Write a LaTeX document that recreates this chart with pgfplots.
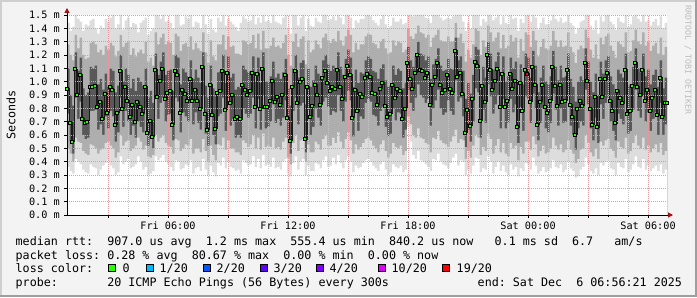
\documentclass[border=0pt]{standalone}
\usepackage{fontspec}
\setmainfont{DejaVu Sans Mono}
\setmonofont{DejaVu Sans Mono}
\usepackage{pgfplots}
\pgfplotsset{compat=1.18}
\usepackage{pgfplotstable}
\usetikzlibrary{arrows.meta}
\definecolor{bg}{HTML}{F3F3F3}
\definecolor{shadea}{HTML}{CFCFCF}
\definecolor{shadeb}{HTML}{9E9E9E}
\definecolor{mgrid}{HTML}{E49A9A}
\definecolor{mingrid}{HTML}{C4C4C4}
\definecolor{smokeA}{HTML}{DDDDDD}
\definecolor{smokeB}{HTML}{AEAEAE}
\definecolor{smokeC}{HTML}{585858}
\definecolor{medgreen}{HTML}{26FF00}
\definecolor{arrowred}{HTML}{A01010}
\definecolor{lossA}{HTML}{26FF00}
\definecolor{lossB}{HTML}{00B8FF}
\definecolor{lossC}{HTML}{0059FF}
\definecolor{lossD}{HTML}{5E00FF}
\definecolor{lossE}{HTML}{7E00FF}
\definecolor{lossF}{HTML}{DD00FF}
\definecolor{lossG}{HTML}{FF0000}
\definecolor{wm}{HTML}{BDBDBD}
\newcommand\lf{\fontsize{11.7bp}{14bp}\selectfont}
\newcommand\tf{\fontsize{10.2bp}{12bp}\selectfont}

\pgfplotstableread{
t lo l1 l2 med h2 h1 hi
0.95 0.36 0.50 0.76 0.95 1.10 1.28 1.44
1.075 0.33 0.46 0.55 0.69 0.90 1.20 1.38
1.20 0.31 0.40 0.46 0.55 0.82 1.16 1.41
1.325 0.42 0.58 0.88 1.10 1.22 1.35 1.50
1.45 0.40 0.55 0.72 0.90 1.08 1.25 1.47
1.575 0.38 0.54 0.85 1.05 1.18 1.33 1.45
1.70 0.34 0.48 0.60 0.72 0.95 1.20 1.38
1.825 0.32 0.46 0.57 0.69 0.90 1.17 1.43
1.95 0.31 0.45 0.58 0.70 0.92 1.18 1.42
2.075 0.38 0.53 0.78 0.96 1.11 1.29 1.46
2.20 0.36 0.52 0.78 0.96 1.10 1.30 1.47
2.325 0.35 0.50 0.79 0.97 1.12 1.28 1.40
2.45 0.30 0.46 0.64 0.81 0.98 1.22 1.36
2.575 0.34 0.49 0.68 0.85 1.02 1.24 1.42
2.70 0.37 0.50 0.60 0.72 0.94 1.20 1.40
2.825 0.39 0.54 0.74 0.91 1.06 1.27 1.47
2.95 0.41 0.55 0.65 0.77 0.96 1.24 1.45
3.075 0.37 0.52 0.78 0.96 1.10 1.29 1.48
3.20 0.35 0.50 0.74 0.94 1.08 1.27 1.50
3.325 0.30 0.43 0.55 0.68 0.92 1.19 1.40
3.45 0.32 0.47 0.62 0.77 0.97 1.23 1.43
3.575 0.44 0.60 0.88 1.08 1.20 1.35 1.50
3.70 0.38 0.52 0.66 0.80 1.00 1.26 1.39
3.825 0.40 0.55 0.78 0.96 1.10 1.29 1.46
3.95 0.42 0.56 0.70 0.86 1.05 1.30 1.48
4.075 0.35 0.48 0.60 0.74 0.95 1.20 1.41
4.20 0.36 0.50 0.67 0.83 1.02 1.25 1.44
4.325 0.38 0.52 0.58 0.70 0.93 1.19 1.43
4.45 0.44 0.58 0.70 0.85 1.03 1.22 1.37
4.575 0.40 0.55 0.66 0.81 1.00 1.24 1.44
4.70 0.34 0.49 0.62 0.76 0.97 1.21 1.46
4.825 0.36 0.52 0.79 0.96 1.10 1.30 1.48
4.95 0.30 0.44 0.52 0.62 0.88 1.15 1.35
5.075 0.31 0.43 0.58 0.71 0.93 1.18 1.38
5.20 0.33 0.45 0.50 0.59 0.84 1.12 1.40
5.325 0.44 0.60 0.89 1.09 1.21 1.37 1.50
5.45 0.41 0.55 0.72 0.89 1.05 1.28 1.50
5.575 0.43 0.58 0.84 1.01 1.15 1.33 1.47
5.70 0.45 0.60 0.88 1.10 1.22 1.36 1.50
5.825 0.40 0.54 0.70 0.87 1.05 1.28 1.45
5.95 0.38 0.52 0.75 0.92 1.08 1.30 1.46
6.075 0.36 0.51 0.76 0.93 1.09 1.29 1.44
6.20 0.33 0.46 0.56 0.68 0.93 1.20 1.40
6.325 0.41 0.57 0.88 1.08 1.20 1.36 1.50
6.45 0.40 0.56 0.85 1.05 1.18 1.34 1.50
6.575 0.34 0.48 0.62 0.77 0.98 1.23 1.42
6.70 0.35 0.50 0.77 0.94 1.10 1.28 1.43
6.825 0.38 0.53 0.74 0.91 1.07 1.29 1.49
6.95 0.37 0.52 0.70 0.86 1.04 1.26 1.47
7.075 0.41 0.57 0.84 1.02 1.16 1.34 1.50
7.20 0.31 0.46 0.68 0.86 1.02 1.24 1.41
7.325 0.35 0.50 0.77 0.94 1.09 1.29 1.45
7.45 0.36 0.50 0.69 0.86 1.03 1.25 1.44
7.575 0.33 0.47 0.64 0.80 0.99 1.23 1.40
7.70 0.42 0.57 0.90 1.11 1.22 1.37 1.50
7.825 0.34 0.48 0.61 0.76 0.97 1.22 1.43
7.95 0.30 0.40 0.52 0.64 0.88 1.14 1.36
8.075 0.37 0.52 0.80 0.98 1.12 1.31 1.47
8.20 0.32 0.45 0.60 0.75 0.95 1.19 1.39
8.325 0.29 0.41 0.53 0.65 0.89 1.16 1.37
8.45 0.39 0.53 0.74 0.92 1.07 1.28 1.48
8.575 0.37 0.52 0.76 0.93 1.08 1.28 1.45
8.70 0.43 0.58 0.88 1.08 1.20 1.35 1.50
8.825 0.35 0.49 0.63 0.79 0.99 1.24 1.42
8.95 0.40 0.56 0.87 1.07 1.19 1.34 1.47
9.075 0.36 0.50 0.67 0.84 1.03 1.26 1.45
9.20 0.35 0.50 0.72 0.90 1.06 1.27 1.43
9.325 0.33 0.47 0.58 0.72 0.94 1.21 1.41
9.45 0.34 0.47 0.60 0.74 0.96 1.21 1.38
9.575 0.31 0.45 0.58 0.72 0.95 1.20 1.44
9.70 0.41 0.56 0.80 0.98 1.12 1.31 1.49
9.825 0.39 0.54 0.76 0.94 1.09 1.30 1.47
9.95 0.37 0.51 0.73 0.90 1.07 1.28 1.45
10.075 0.38 0.53 0.76 0.93 1.08 1.29 1.46
10.20 0.44 0.60 0.88 1.07 1.19 1.35 1.50
10.325 0.36 0.50 0.65 0.81 1.00 1.25 1.43
10.45 0.42 0.58 0.87 1.06 1.18 1.36 1.48
10.575 0.35 0.49 0.64 0.80 0.99 1.24 1.44
10.70 0.45 0.61 0.90 1.10 1.22 1.38 1.50
10.825 0.37 0.51 0.65 0.81 1.00 1.25 1.45
10.95 0.38 0.52 0.66 0.81 1.00 1.25 1.46
11.075 0.36 0.51 0.70 0.86 1.04 1.27 1.44
11.20 0.43 0.58 0.83 1.01 1.15 1.33 1.50
11.325 0.35 0.50 0.69 0.85 1.03 1.26 1.45
11.45 0.36 0.51 0.72 0.89 1.06 1.27 1.44
11.575 0.34 0.49 0.67 0.83 1.02 1.25 1.43
11.70 0.40 0.55 0.73 0.90 1.07 1.29 1.48
11.825 0.42 0.58 0.86 1.05 1.17 1.35 1.50
11.95 0.31 0.43 0.58 0.73 0.95 1.20 1.40
12.075 0.29 0.38 0.46 0.56 0.82 1.12 1.36
12.20 0.39 0.54 0.78 0.96 1.10 1.30 1.50
12.325 0.44 0.60 0.88 1.08 1.20 1.36 1.50
12.45 0.34 0.48 0.68 0.84 1.03 1.26 1.42
12.575 0.40 0.56 0.82 1.00 1.14 1.32 1.48
12.70 0.42 0.57 0.84 1.02 1.16 1.34 1.50
12.825 0.30 0.40 0.47 0.57 0.83 1.13 1.38
12.95 0.37 0.53 0.78 0.96 1.10 1.31 1.47
13.075 0.33 0.47 0.60 0.74 0.96 1.22 1.42
13.20 0.33 0.47 0.66 0.82 1.01 1.24 1.41
13.325 0.39 0.55 0.80 0.98 1.12 1.31 1.48
13.45 0.38 0.53 0.73 0.90 1.06 1.28 1.45
13.575 0.35 0.49 0.67 0.83 1.02 1.25 1.44
13.70 0.41 0.57 0.85 1.03 1.16 1.33 1.50
13.825 0.44 0.60 0.88 1.08 1.20 1.36 1.50
13.95 0.36 0.52 0.81 0.99 1.13 1.31 1.46
14.075 0.37 0.52 0.75 0.93 1.08 1.29 1.47
14.20 0.43 0.58 0.78 0.96 1.12 1.32 1.49
14.325 0.38 0.54 0.77 0.95 1.10 1.30 1.46
14.45 0.45 0.62 0.90 1.09 1.22 1.38 1.50
14.575 0.39 0.55 0.78 0.96 1.11 1.31 1.48
14.70 0.35 0.50 0.70 0.87 1.05 1.27 1.43
14.825 0.41 0.57 0.85 1.04 1.17 1.34 1.50
14.95 0.44 0.62 0.93 1.12 1.24 1.39 1.50
15.075 0.40 0.56 0.86 1.05 1.18 1.35 1.48
15.20 0.32 0.46 0.59 0.73 0.96 1.22 1.40
15.325 0.37 0.53 0.77 0.94 1.09 1.29 1.46
15.45 0.35 0.49 0.63 0.78 0.99 1.24 1.44
15.575 0.36 0.51 0.74 0.91 1.07 1.28 1.47
15.70 0.39 0.54 0.72 0.89 1.06 1.28 1.47
15.825 0.41 0.57 0.84 1.03 1.16 1.34 1.50
15.95 0.42 0.58 0.87 1.06 1.19 1.36 1.50
16.075 0.40 0.56 0.85 1.04 1.17 1.35 1.49
16.20 0.37 0.52 0.75 0.92 1.08 1.29 1.46
16.325 0.35 0.50 0.74 0.91 1.07 1.28 1.44
16.45 0.33 0.47 0.67 0.83 1.02 1.25 1.42
16.575 0.38 0.53 0.78 0.95 1.10 1.30 1.47
16.70 0.40 0.56 0.81 0.99 1.13 1.32 1.50
16.825 0.34 0.48 0.66 0.82 1.01 1.25 1.43
16.95 0.30 0.43 0.59 0.74 0.96 1.21 1.40
17.075 0.32 0.46 0.61 0.76 0.97 1.22 1.42
17.20 0.38 0.54 0.80 0.98 1.12 1.31 1.48
17.325 0.36 0.51 0.71 0.88 1.05 1.27 1.45
17.45 0.35 0.50 0.77 0.95 1.10 1.30 1.45
17.575 0.37 0.52 0.76 0.93 1.08 1.29 1.47
17.70 0.32 0.45 0.58 0.72 0.95 1.22 1.43
17.825 0.34 0.48 0.64 0.80 0.99 1.24 1.44
17.95 0.66 0.74 0.94 1.14 1.26 1.40 1.50
18.075 0.55 0.68 0.84 1.02 1.16 1.34 1.50
18.20 0.45 0.60 0.78 0.95 1.11 1.32 1.49
18.325 0.42 0.58 0.88 1.07 1.19 1.36 1.50
18.45 0.48 0.65 0.98 1.20 1.30 1.42 1.50
18.575 0.41 0.58 0.90 1.09 1.21 1.37 1.50
18.70 0.40 0.57 0.88 1.08 1.20 1.36 1.50
18.825 0.38 0.54 0.84 1.03 1.16 1.33 1.48
18.95 0.36 0.53 0.87 1.07 1.19 1.35 1.47
19.075 0.33 0.47 0.67 0.83 1.02 1.26 1.44
19.20 0.42 0.58 0.80 0.98 1.13 1.33 1.50
19.325 0.41 0.57 0.86 1.04 1.17 1.35 1.50
19.45 0.46 0.63 0.94 1.14 1.25 1.39 1.50
19.575 0.40 0.56 0.80 0.98 1.12 1.31 1.48
19.70 0.38 0.54 0.75 0.92 1.08 1.30 1.46
19.825 0.37 0.53 0.77 0.94 1.09 1.30 1.47
19.95 0.35 0.51 0.86 1.05 1.17 1.34 1.48
20.075 0.39 0.55 0.78 0.95 1.10 1.30 1.47
20.20 0.43 0.59 0.75 0.92 1.09 1.30 1.49
20.325 0.46 0.64 1.01 1.23 1.33 1.44 1.50
20.45 0.37 0.54 0.85 1.04 1.16 1.33 1.50
20.575 0.41 0.57 0.88 1.07 1.19 1.36 1.50
20.70 0.40 0.56 0.74 0.91 1.08 1.29 1.45
20.825 0.30 0.42 0.51 0.62 0.87 1.15 1.38
20.95 0.34 0.48 0.64 0.79 0.99 1.24 1.44
21.075 0.31 0.43 0.55 0.67 0.91 1.18 1.40
21.20 0.37 0.52 0.70 0.87 1.05 1.28 1.50
21.325 0.43 0.60 0.95 1.15 1.26 1.40 1.50
21.45 0.42 0.58 0.92 1.12 1.24 1.38 1.50
21.575 0.32 0.45 0.58 0.71 0.94 1.20 1.42
21.70 0.35 0.51 0.79 0.97 1.11 1.31 1.47
21.825 0.34 0.48 0.69 0.85 1.03 1.26 1.45
21.95 0.44 0.61 0.98 1.20 1.30 1.42 1.50
22.075 0.40 0.57 0.89 1.09 1.21 1.37 1.50
22.20 0.31 0.46 0.76 0.94 1.09 1.30 1.46
22.325 0.36 0.52 0.83 1.01 1.15 1.33 1.48
22.45 0.40 0.57 0.90 1.10 1.22 1.37 1.50
22.575 0.33 0.47 0.65 0.81 1.00 1.25 1.43
22.70 0.37 0.54 0.87 1.06 1.19 1.35 1.49
22.825 0.32 0.46 0.65 0.81 1.00 1.25 1.44
22.95 0.30 0.44 0.69 0.86 1.04 1.27 1.43
23.075 0.38 0.54 0.87 1.06 1.18 1.35 1.50
23.20 0.34 0.50 0.77 0.95 1.10 1.30 1.47
23.325 0.36 0.52 0.83 1.01 1.15 1.33 1.48
23.45 0.29 0.41 0.54 0.66 0.90 1.18 1.38
23.575 0.35 0.51 0.81 0.99 1.13 1.32 1.47
23.70 0.33 0.46 0.63 0.78 0.98 1.23 1.44
23.825 0.39 0.55 0.89 1.09 1.21 1.37 1.50
23.95 0.38 0.55 0.87 1.06 1.18 1.35 1.50
24.075 0.34 0.49 0.69 0.85 1.03 1.26 1.45
24.20 0.43 0.59 0.91 1.11 1.23 1.38 1.50
24.325 0.37 0.53 0.80 0.98 1.12 1.31 1.48
24.45 0.31 0.44 0.56 0.68 0.92 1.19 1.39
24.575 0.33 0.48 0.69 0.85 1.03 1.26 1.44
24.70 0.36 0.52 0.80 0.98 1.12 1.32 1.48
24.825 0.32 0.46 0.65 0.81 1.00 1.25 1.43
24.95 0.33 0.47 0.62 0.77 0.98 1.24 1.43
25.075 0.35 0.50 0.69 0.86 1.04 1.27 1.46
25.20 0.41 0.58 0.91 1.11 1.23 1.38 1.50
25.325 0.36 0.52 0.79 0.97 1.11 1.31 1.47
25.45 0.35 0.49 0.67 0.82 1.01 1.26 1.45
25.575 0.38 0.53 0.80 0.98 1.12 1.31 1.48
25.70 0.32 0.47 0.69 0.85 1.03 1.26 1.44
25.825 0.34 0.49 0.70 0.86 1.04 1.27 1.45
25.95 0.40 0.56 0.89 1.09 1.21 1.37 1.50
26.075 0.35 0.49 0.67 0.83 1.02 1.26 1.44
26.20 0.33 0.46 0.60 0.74 0.96 1.22 1.42
26.325 0.28 0.39 0.49 0.60 0.85 1.14 1.36
26.45 0.29 0.42 0.65 0.80 1.00 1.24 1.40
26.575 0.34 0.49 0.70 0.86 1.04 1.27 1.45
26.70 0.36 0.50 0.67 0.82 1.01 1.25 1.46
26.825 0.43 0.60 0.94 1.14 1.25 1.39 1.50
26.95 0.38 0.54 0.83 1.01 1.15 1.33 1.50
27.075 0.33 0.47 0.65 0.80 1.00 1.24 1.42
27.20 0.31 0.44 0.56 0.68 0.92 1.18 1.39
27.325 0.35 0.50 0.73 0.89 1.06 1.28 1.46
27.45 0.30 0.42 0.54 0.66 0.90 1.17 1.36
27.575 0.39 0.55 0.83 1.02 1.15 1.33 1.49
27.70 0.37 0.52 0.72 0.89 1.06 1.28 1.45
27.825 0.40 0.56 0.84 1.02 1.16 1.34 1.50
27.95 0.41 0.57 0.88 1.07 1.19 1.36 1.50
28.075 0.35 0.50 0.70 0.86 1.04 1.27 1.45
28.20 0.34 0.48 0.63 0.78 0.98 1.23 1.43
28.325 0.30 0.43 0.56 0.69 0.92 1.18 1.39
28.45 0.39 0.55 0.76 0.93 1.09 1.30 1.48
28.575 0.36 0.51 0.72 0.88 1.06 1.28 1.45
28.70 0.35 0.50 0.68 0.84 1.03 1.26 1.44
28.825 0.42 0.58 0.89 1.09 1.21 1.37 1.50
28.95 0.32 0.46 0.61 0.76 0.97 1.22 1.41
29.075 0.34 0.48 0.63 0.78 0.98 1.23 1.43
29.20 0.38 0.54 0.79 0.97 1.11 1.31 1.49
29.325 0.44 0.60 0.94 1.14 1.25 1.39 1.50
29.45 0.36 0.52 0.78 0.96 1.10 1.30 1.47
29.575 0.35 0.50 0.73 0.90 1.07 1.28 1.45
29.70 0.42 0.58 0.89 1.09 1.21 1.37 1.50
29.825 0.34 0.49 0.70 0.86 1.04 1.27 1.45
29.95 0.37 0.52 0.77 0.94 1.09 1.30 1.46
30.075 0.33 0.47 0.63 0.78 0.98 1.23 1.42
30.20 0.35 0.50 0.72 0.88 1.05 1.27 1.45
30.325 0.37 0.53 0.77 0.94 1.09 1.29 1.47
30.45 0.33 0.47 0.60 0.75 0.96 1.21 1.42
30.575 0.38 0.54 0.84 1.03 1.16 1.33 1.49
30.70 0.31 0.45 0.60 0.74 0.95 1.20 1.40
30.825 0.34 0.48 0.68 0.84 1.03 1.26 1.44
30.95 0.34 0.48 0.68 0.84 1.03 1.26 1.44
}\smoke

\begin{document}
\begin{tikzpicture}[x=1bp,y=1bp]
\fill[bg] (0,0) rectangle (697,297);
\fill[shadea] (0,295) rectangle (697,297);
\fill[shadea] (0,0) rectangle (2,297);
\fill[shadeb] (0,0) rectangle (697,2);
\fill[shadeb] (695,0) rectangle (697,297);
\fill[white] (67,82) rectangle (667,282);

\begin{axis}[
  at={(67bp,82bp)}, anchor=south west,
  scale only axis, width=600bp, height=200bp,
  xmin=0.95, xmax=30.95, ymin=0, ymax=1.5,
  axis lines=left,
  axis on top,
  axis line style={line width=1bp, black, -{Triangle[length=5bp,width=5bp,color=arrowred]}},
  x axis line style={shorten >=-6bp},
  y axis line style={shorten >=-7bp},
  xtick={3,6,9,12,15,18,21,24,27,30},
  xticklabels={{},Fri 06:00,{},Fri 12:00,{},Fri 18:00,{},Sat 00:00,{},Sat 06:00},
  minor x tick num=2,
  ytick={0,0.1,0.2,0.3,0.4,0.5,0.6,0.7,0.8,0.9,1.0,1.1,1.2,1.3,1.4,1.5},
  yticklabels={0.0 m,0.1 m,0.2 m,0.3 m,0.4 m,0.5 m,0.6 m,0.7 m,0.8 m,0.9 m,1.0 m,1.1 m,1.2 m,1.3 m,1.4 m,1.5 m},
  tick align=outside,
  major tick length=3bp, minor tick length=2bp,
  tick style={black, line width=0.6bp},
  grid=both,
  major grid style={mgrid, line width=0.7bp, dash pattern=on 1bp off 1bp},
  minor grid style={mingrid, line width=0.7bp, dash pattern=on 1bp off 1bp},
  xticklabel style={font=\tf, inner sep=0pt, anchor=base, yshift=-11bp},
  yticklabel style={font=\tf, inner sep=0pt, anchor=east, xshift=-4bp},
]
\addplot[draw=none, fill=smokeA, const plot] table[x=t,y=hi]{\smoke} \closedcycle;
\addplot[draw=none, fill=smokeB, const plot] table[x=t,y=h1]{\smoke} \closedcycle;
\addplot[draw=none, fill=smokeC, const plot] table[x=t,y=h2]{\smoke} \closedcycle;
\addplot[draw=none, fill=smokeB, const plot] table[x=t,y=l2]{\smoke} \closedcycle;
\addplot[draw=none, fill=smokeA, const plot] table[x=t,y=l1]{\smoke} \closedcycle;
\addplot[draw=none, fill=white, const plot] table[x=t,y=lo]{\smoke} \closedcycle;
\addplot[const plot, color=black!90, line width=1.1bp] table[x=t,y=med]{\smoke};
\addplot[only marks, mark=square*, mark size=1.5bp, mark options={draw=none, fill=medgreen}] table[x=t,y=med]{\smoke};
\addplot[only marks, mark=square*, mark size=1.5bp, mark options={draw=none, fill=lossG}] coordinates {(23.95,1.06)};
\end{axis}

\node[rotate=90, font=\lf] at (11,182) {Seconds};
\node[rotate=-90, font=\fontsize{8.3bp}{10bp}\selectfont, text=wm] at (688,237) {RRDTOOL / TOBI OETIKER};

\node[anchor=base west, inner sep=0pt, font=\lf] at (15.5,51.7) {median~rtt:~~907.0~us~avg~~1.2~ms~max~~555.4~us~min~~840.2~us~now~~~0.1~ms~sd~~6.7~~~am/s};
\node[anchor=base west, inner sep=0pt, font=\lf] at (15.5,38) {packet~loss:~0.28~\%~avg~~80.67~\%~max~~0.00~\%~min~~0.00~\%~now};
\node[anchor=base west, inner sep=0pt, font=\lf] at (15.5,24.3) {loss~color:};
\foreach \bx/\tx/\col/\lab in {108/122.5/lossA/0, 146/159.5/lossB/1\slash20, 203/216.5/lossC/2\slash20, 260/273.5/lossD/3\slash20, 316/329.5/lossE/4\slash20, 378/391.5/lossF/10\slash20, 442/456.5/lossG/19\slash20}{
  \filldraw[fill=\col, draw=black, line width=0.6bp] (\bx+0.3,25.5) rectangle (\bx+7.3,32.5);
  \node[anchor=base west, inner sep=0pt, font=\lf] at (\tx,24.3) {\lab};
}
\node[anchor=base west, inner sep=0pt, font=\lf] at (15.5,10.6) {probe:~~~~~~~20~ICMP~Echo~Pings~(56~Bytes)~every~300s};
\node[anchor=base west, inner sep=0pt, font=\lf] at (477.5,10.6) {end:~Sat~Dec~~6~06:56:21~2025};
\end{tikzpicture}
\end{document}
